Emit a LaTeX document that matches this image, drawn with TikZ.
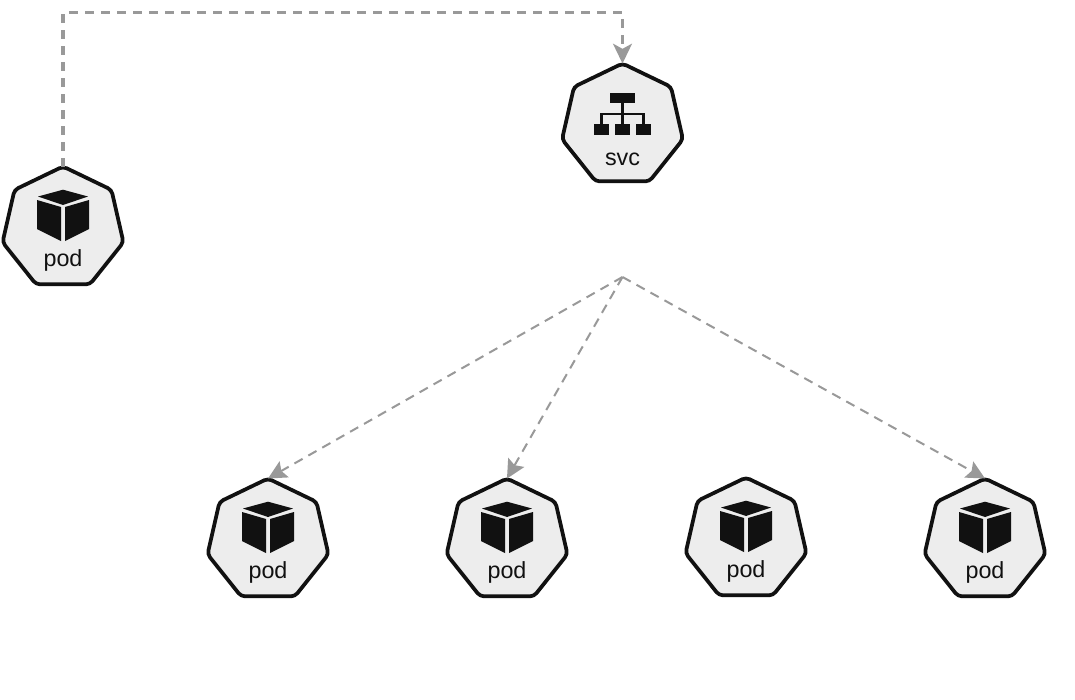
\documentclass[tikz,border=0pt]{standalone}
\usepackage{fontspec}
\setmainfont{Liberation Sans}
\usetikzlibrary{shapes.geometric,arrows.meta}
\definecolor{inkc}{HTML}{111111}
\definecolor{fillc}{HTML}{EDEDED}
\definecolor{linkc}{HTML}{999999}
\tikzset{
  kube/.style={regular polygon,regular polygon sides=7,minimum size=93pt,inner sep=0pt,outer sep=0pt,
    draw=inkc,fill=fillc,line width=2.8pt,rounded corners=3pt},
  kubelabel/.style={anchor=base,inner sep=0pt,text=inkc,font=\fontsize{17.5}{20}\selectfont},
  linkthin/.style={draw=linkc,line width=1.5pt,dash pattern=on 7pt off 5pt,-{Stealth[length=14pt,width=14pt,inset=2.5pt,fill=linkc,line width=0pt]}},
  linkthick/.style={draw=linkc,line width=2.4pt,dash pattern=on 6.5pt off 5.5pt,-{Stealth[length=15pt,width=14.5pt,inset=4pt,fill=linkc,line width=0pt]}},
  icon/.style={fill=inkc,draw=none},
  iconline/.style={draw=inkc,line width=1.6pt}
}
\newcommand{\podicon}[2]{%
  \begin{scope}[shift={(#1,#2)}]
    \fill[icon] (0,-38.8) -- (25,-32) -- (0,-23.5) -- (-25,-32) -- cycle;
    \fill[icon] (-26,-28.5) -- (-2,-21.5) -- (-2,12.5) -- (-26,0.5) -- cycle;
    \fill[icon] (26,-28.5) -- (2,-21.5) -- (2,12.5) -- (26,0.5) -- cycle;
  \end{scope}}
\newcommand{\kubepod}[3]{%
  \node[kube] (#1) at (#2,#3) {};
  \podicon{#2}{#3}
  \node[kubelabel] (#1label) at (#2,#3+38) {pod};}
\begin{document}
\begin{tikzpicture}[x=0.75pt,y=-0.75pt]
\useasboundingbox (0,0) rectangle (1075,700);
\fill[white] (0,0) rectangle (1075,700);
\kubepod{podA}{63}{228.5}
\kubepod{podB}{268}{540.5}
\kubepod{podC}{507}{540.5}
\kubepod{podD}{746}{539.5}
\kubepod{podE}{985}{540.5}
\node[kube] (svc) at (622.5,125.5) {};
\begin{scope}[shift={(622.5,125.5)}]
  \draw[iconline] (0,-25) -- (0,0);
  \draw[iconline] (-21,0) -- (-21,-11.5) -- (21,-11.5) -- (21,0);
  \fill[icon] (-12.5,-33) rectangle (12.5,-23);
  \fill[icon] (-28.5,-1.5) rectangle (-13.3,9.2);
  \fill[icon] (-7.5,-1.5) rectangle (7.5,9.2);
  \fill[icon] (13.5,-1.5) rectangle (28.8,9.2);
\end{scope}
\node[kubelabel] (svclabel) at (622.5,165) {svc};
\coordinate (hub) at (622.5,277);
\coordinate (bendA) at (63,12.5);
\coordinate (bendB) at (622.5,12.5);
\draw[linkthick] (podA.corner 1) -- (bendA) -- (bendB) -- (svc.corner 1);
\draw[linkthin] (hub) -- (podB.corner 1);
\draw[linkthin] (hub) -- (podC.corner 1);
\draw[linkthin] (hub) -- (podE.corner 1);
\end{tikzpicture}
\end{document}
